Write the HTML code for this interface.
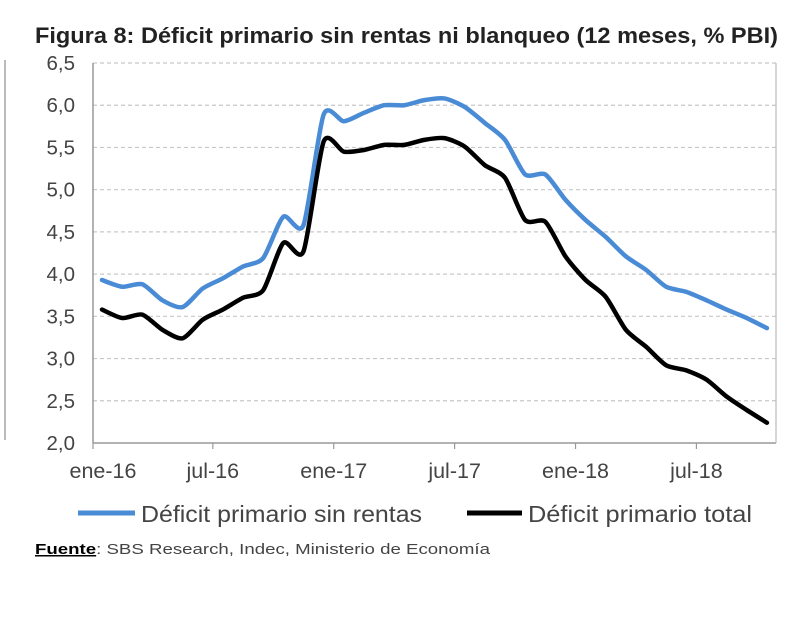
<!DOCTYPE html>
<html><head><meta charset="utf-8">
<style>
body{margin:0;background:#fff;width:800px;height:614px;overflow:hidden;font-family:"Liberation Sans",Arial,sans-serif;}
</style></head>
<body>
<svg id="chart" width="800" height="614" xmlns="http://www.w3.org/2000/svg" font-family="Liberation Sans, Arial, sans-serif">
<line x1="5" y1="60" x2="5" y2="440" stroke="#bbb" stroke-width="2"/>
<text x="35" y="43" font-size="22" font-weight="bold" fill="#222" textLength="743" lengthAdjust="spacingAndGlyphs">Figura 8: Déficit primario sin rentas ni blanqueo (12 meses, % PBI)</text>
<g id="grid"></g>
<g id="yaxis"></g>
<g id="xaxis"></g>
<g id="series"></g>
<g>
<line x1="78" y1="513" x2="135" y2="513" stroke="#4a8bd6" stroke-width="5"/>
<text x="141" y="522" font-size="23" fill="#444" textLength="281" lengthAdjust="spacingAndGlyphs">Déficit primario sin rentas</text>
<line x1="467" y1="513" x2="522" y2="513" stroke="#000" stroke-width="5"/>
<text x="528" y="522" font-size="23" fill="#444" textLength="224" lengthAdjust="spacingAndGlyphs">Déficit primario total</text>
</g>
<text x="35" y="554" font-size="15" fill="#444" textLength="455" lengthAdjust="spacingAndGlyphs"><tspan font-weight="bold" text-decoration="underline" fill="#000">Fuente</tspan>: SBS Research, Indec, Ministerio de Economía</text>
</svg>
<script>
const months = ["ene-16","feb-16","mar-16","abr-16","may-16","jun-16","jul-16","ago-16","sep-16","oct-16","nov-16","dic-16","ene-17","feb-17","mar-17","abr-17","may-17","jun-17","jul-17","ago-17","sep-17","oct-17","nov-17","dic-17","ene-18","feb-18","mar-18","abr-18","may-18","jun-18","jul-18","ago-18","sep-18","oct-18"];
const sinRentas = [3.93,3.85,3.88,3.69,3.61,3.83,3.95,4.09,4.19,4.68,4.58,5.89,5.81,5.91,6.0,6.0,6.06,6.08,5.98,5.79,5.59,5.18,5.18,4.88,4.64,4.44,4.21,4.05,3.85,3.79,3.69,3.58,3.48,3.36];
const total = [3.58,3.48,3.52,3.34,3.24,3.46,3.58,3.72,3.81,4.37,4.27,5.57,5.45,5.47,5.53,5.53,5.59,5.61,5.51,5.29,5.14,4.64,4.62,4.21,3.93,3.73,3.34,3.14,2.92,2.86,2.75,2.55,2.39,2.24];
const yTicks = [2.0,2.5,3.0,3.5,4.0,4.5,5.0,5.5,6.0,6.5];
const xTickLabels = ["ene-16","jul-16","ene-17","jul-17","ene-18","jul-18"];
const xTickIdx = [0,6,12,18,24,30];

const NS="http://www.w3.org/2000/svg";
const L=93,R=776,T=63,B=443;
const x=i=>102+i*20.15;
const y=v=>B-(v-2.0)/(6.5-2.0)*(B-T);
function mk(tag,attrs,parent){const e=document.createElementNS(NS,tag);for(const k in attrs)e.setAttribute(k,attrs[k]);parent.appendChild(e);return e;}
const grid=document.getElementById('grid'),ya=document.getElementById('yaxis'),xa=document.getElementById('xaxis'),se=document.getElementById('series');
yTicks.forEach(v=>{
  if(v>2.0){const g=mk('line',{x1:L,x2:R,y1:y(v),y2:y(v),stroke:'#c8c8c8','stroke-width':1.2,'stroke-dasharray':'4,3'},grid);
  
  }
  const t=mk('text',{x:75,y:y(v)+7,'text-anchor':'end','font-size':20.5,fill:'#444'},ya);
  
  
  t.textContent=v.toFixed(1).replace('.',',');
});
let a=mk('line',{x1:L,x2:L,y1:T,y2:B,stroke:'#999','stroke-width':1.5},ya);


let b=mk('line',{x1:L,x2:R,y1:B,y2:B,stroke:'#999','stroke-width':1.5},xa);


let rb=mk('line',{x1:R,x2:R,y1:T,y2:B,stroke:'#bbb','stroke-width':1.2},xa);


xTickIdx.forEach((idx,k)=>{
  const tx=idx===0?L:x(idx-0.5);
  const tk=mk('line',{x1:tx,x2:tx,y1:B,y2:B+6,stroke:'#999','stroke-width':1.2},xa);
  
  
  const t=mk('text',{x:idx===0?103:tx,y:B+35,'text-anchor':'middle','font-size':21.5,fill:'#444'},xa);
  
  
  t.textContent=xTickLabels[k];
});
function path(vals){
  const p=vals.map((v,i)=>[x(i),y(v)]);
  let d='M'+p[0][0]+','+p[0][1];
  const s=0.12;
  for(let i=0;i<p.length-1;i++){
    const p0=p[Math.max(i-1,0)],p1=p[i],p2=p[i+1],p3=p[Math.min(i+2,p.length-1)];
    const c1=[p1[0]+(p2[0]-p0[0])*s,p1[1]+(p2[1]-p0[1])*s],c2=[p2[0]-(p3[0]-p1[0])*s,p2[1]-(p3[1]-p1[1])*s];
    d+=` C${c1[0]},${c1[1]} ${c2[0]},${c2[1]} ${p2[0]},${p2[1]}`;
  }
  return d;
}
const l1=mk('path',{d:path(sinRentas),fill:'none',stroke:'#4a8bd6','stroke-width':4.5,'stroke-linejoin':'round','stroke-linecap':'round'},se);


const l2=mk('path',{d:path(total),fill:'none',stroke:'#000','stroke-width':4.5,'stroke-linejoin':'round','stroke-linecap':'round'},se);


</script>
</body></html>
